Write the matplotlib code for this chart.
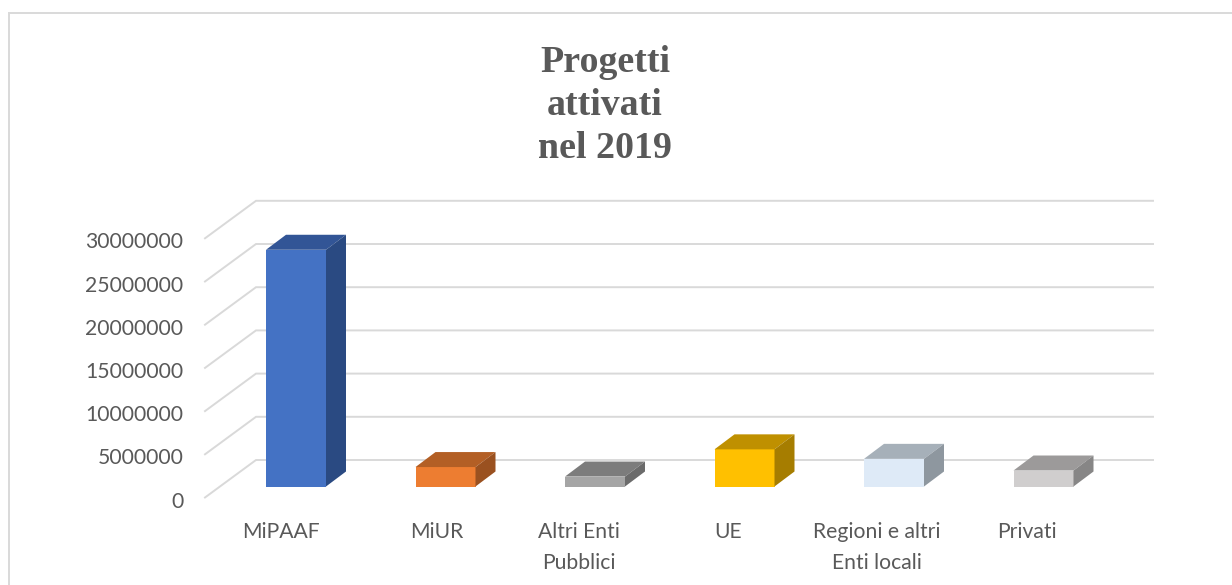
import matplotlib
matplotlib.use("Agg")
import matplotlib.pyplot as plt
from matplotlib.lines import Line2D
from matplotlib.patches import Polygon
from matplotlib.transforms import ScaledTranslation

# values
categories = ["MiPAAF", "MiUR", "Altri Enti\nPubblici", "UE", "Regioni e altri\nEnti locali", "Privati"]
values = [27400000, 2250000, 1150000, 4300000, 3200000, 1850000]
yticks = [0, 5000000, 10000000, 15000000, 20000000, 25000000, 30000000]

front_colors = ["#4472C4", "#ED7D31", "#A5A5A5", "#FFC000", "#DEEAF7", "#D0CECE"]
top_colors = ["#325596", "#B35F25", "#7C7C7C", "#BF9000", "#A6B0B9", "#9C9A9A"]
side_colors = ["#2A4A82", "#9A5120", "#6B6B6B", "#A67D00", "#8E979F", "#878686"]

# labels are not centred under the bars in the original (pixels from bar centre)
label_shift = [-15, -9, -16, -16, -17, -17]

W, H = 1232, 585
PX_PER_CAT = 149.5
PX_PER_VAL = 43.2 / 5000000

fig = plt.figure(figsize=(W / 100, H / 100), dpi=100)
plt.rcParams["font.family"] = ["Lato", "DejaVu Sans"]

# axes sits on the front edge of the floor
left, right, bottom = 205, 1153, 497.5
top = bottom - 30000000 * PX_PER_VAL
ax = fig.add_axes([left / W, 1 - bottom / H, (right - left) / W, (bottom - top) / H])
ax.set_xlim((left - 296) / PX_PER_CAT, (right - 296) / PX_PER_CAT)
ax.set_ylim(0, 30000000)
for s in ax.spines.values():
    s.set_visible(False)


def dx(px):
    return px / PX_PER_CAT


def dy(px):
    return px / PX_PER_VAL


# floor and wall gridlines
x0 = ax.get_xlim()[0]
x1 = ax.get_xlim()[1]
for v in yticks:
    ax.plot([x0, x0 + dx(51), x1], [v, v + dy(37.5), v + dy(37.5)],
            color="#D9D9D9", lw=1.4, clip_on=False, zorder=1, solid_joinstyle="miter")

# 3d columns
lift = dy(11)
bar_w = 60 / PX_PER_CAT
ddx, ddy = dx(20), dy(15)
xs = list(range(len(values)))
ax.bar(xs, values, width=bar_w, bottom=lift, color=front_colors, zorder=3, clip_on=False)
for i, v in enumerate(values):
    xl, xr = i - bar_w / 2, i + bar_w / 2
    yb, yt = lift, lift + v
    ax.add_patch(Polygon([(xl, yt), (xr, yt), (xr + ddx, yt + ddy), (xl + ddx, yt + ddy)],
                         facecolor=top_colors[i], edgecolor="none", zorder=3, clip_on=False))
    ax.add_patch(Polygon([(xr, yb), (xr + ddx, yb + ddy), (xr + ddx, yt + ddy), (xr, yt)],
                         facecolor=side_colors[i], edgecolor="none", zorder=3, clip_on=False))

ax.set_xticks([])
ax.set_yticks(yticks)
ax.set_yticklabels([str(v) for v in yticks], fontsize=15.2, color="#595959")
ax.tick_params(axis="y", length=0, pad=15.5)
# tick labels sit a little below the gridline ends
for lab in ax.get_yticklabels():
    lab.set_transform(lab.get_transform() + ScaledTranslation(0, -2 / 100, fig.dpi_scale_trans))

for i, name in enumerate(categories):
    ax.annotate(name, xy=(i, 0), xytext=(label_shift[i], -25), textcoords="offset pixels",
                ha="center", va="top", fontsize=15.2, color="#595959",
                linespacing=1.65, annotation_clip=False)

fig.text(605 / W, 1 - 105.5 / H, "Progetti\nattivati\nnel 2019", ha="center", va="center",
         fontsize=27.3, fontweight="bold", family="Liberation Serif", color="#595959",
         linespacing=1.3)

# outer frame, open on the right and bottom
fig.add_artist(Line2D([9 / W, 9 / W, 1], [0, 1 - 13 / H, 1 - 13 / H], color="#D9D9D9", lw=1.4,
                      solid_joinstyle="miter"))

fig.savefig("out.png", dpi=100)
